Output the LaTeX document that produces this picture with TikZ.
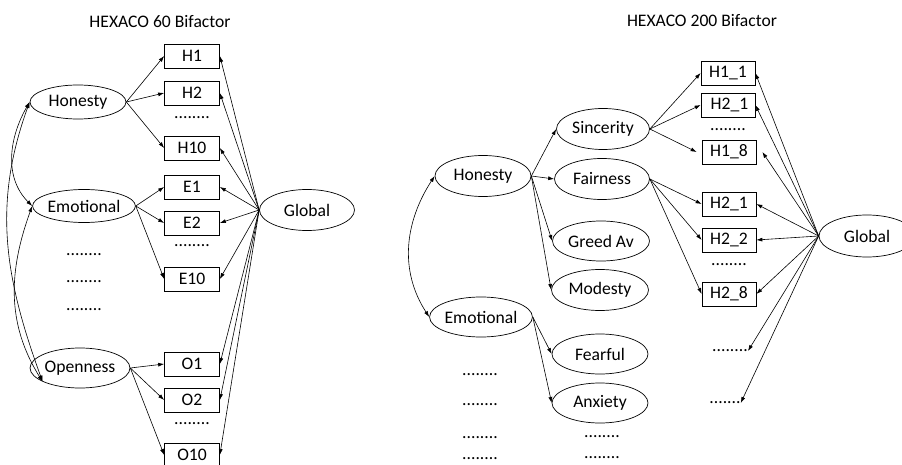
\documentclass[tikz,border=0pt]{standalone}
\usepackage{fontspec}
\setmainfont{Carlito}
\usepackage{tikz}
\usetikzlibrary{positioning}
\usetikzlibrary{shapes}
\usetikzlibrary{arrows.meta}

\begin{document}
\begin{tikzpicture}[x = 1pt, y = -1pt,
    every node/.style = {font = \fontsize{17.6}{21}\selectfont},
    latent/.style = {draw, ellipse, inner sep = 0pt, minimum width = 96pt, minimum height = 40pt, line width = 0.7pt},
    item/.style = {draw, rectangle, inner sep = 0pt, minimum width = 55pt, minimum height = 24pt, line width = 0.7pt},
    dotrow/.style = {draw = none, inner sep = 0pt},
    load/.style = {-{Latex[length = 6pt, width = 4pt]}, line width = 0.6pt},
    cov/.style = {{Latex[length = 6pt, width = 4pt]}-{Latex[length = 6pt, width = 4pt]}, line width = 0.6pt}]
    \useasboundingbox (0,0) rectangle (902,465);

    % HEXACO 60
    \node[draw = none] at (160,22) (title60) {HEXACO 60 Bifactor} ;
    \node[latent, minimum height = 34pt] at (78,102) (hon1) {Honesty} ;
    \node[latent, minimum width = 98pt, minimum height = 33pt] at (84,206) (emo1) {Emotional} ;
    \node[latent, minimum width = 94pt] at (80,368) (opn1) {Openness} ;
    \node[dotrow] at (84,255) (ldots1) {........} ;
    \node[dotrow] at (84,282) (ldots2) {........} ;
    \node[dotrow] at (84,310) (ldots3) {........} ;
    \node[latent, minimum width = 95pt, minimum height = 41pt] at (307,210) (global1) {Global} ;

    \node[item] at (192,56) (h1) {H1} ;
    \node[item] at (192,93) (h2) {H2} ;
    \node[dotrow] at (192,118) (hdots) {........} ;
    \node[item] at (192,148) (h10) {H10} ;
    \node[item] at (192,187) (e1) {E1} ;
    \node[item] at (192,223) (e2) {E2} ;
    \node[dotrow] at (192,246) (edots) {........} ;
    \node[item] at (192,279) (e10) {E10} ;
    \node[item] at (192,364) (o1) {O1} ;
    \node[item] at (192,400) (o2) {O2} ;
    \node[dotrow] at (192,424) (odots) {........} ;
    \node[item] at (192,455) (o10) {O10} ;

    \draw[load] (hon1.east) -- (h1.west) ;
    \draw[load] (hon1.east) -- (h2.west) ;
    \draw[load] (hon1.east) -- (h10.west) ;
    \draw[load] (emo1.east) -- (e1.west) ;
    \draw[load] (emo1.east) -- (e2.west) ;
    \draw[load] (emo1.east) -- (e10.west) ;
    \draw[load] (opn1.east) -- (o1.west) ;
    \draw[load] (opn1.east) -- (o2.west) ;
    \draw[load] (opn1.east) -- (o10.west) ;

    \draw[load] (global1.west) -- (h1.east) ;
    \draw[load] (global1.west) -- (h2.east) ;
    \draw[load] (global1.west) -- (h10.east) ;
    \draw[load] (global1.west) -- (e1.east) ;
    \draw[load] (global1.west) -- (e2.east) ;
    \draw[load] (global1.west) -- (e10.east) ;
    \draw[load] (global1.west) -- (o1.east) ;
    \draw[load] (global1.west) -- (o2.east) ;
    \draw[load] (global1.west) -- (o10.east) ;

    \draw[cov] (hon1.west) to[out = 240, in = 135] (emo1.west) ;
    \draw[cov] (hon1.west) to[out = 250, in = 110] (opn1.200) ;
    \draw[cov] (emo1.west) to[out = 250, in = 122] (opn1.200) ;

    % HEXACO 200
    \node[draw = none] at (702,21) (title200) {HEXACO 200 Bifactor} ;
    \node[latent, minimum height = 41pt] at (483,176) (hon2) {Honesty} ;
    \node[latent] at (481,317) (emo2) {Emotional} ;
    \node[latent, minimum width = 93pt, minimum height = 41pt] at (603,129) (sinc) {Sincerity} ;
    \node[latent, minimum width = 95pt, minimum height = 41pt] at (602,179) (fair) {Fairness} ;
    \node[latent, minimum width = 97pt] at (601,241) (greed) {Greed Av} ;
    \node[latent, minimum width = 97pt, minimum height = 41pt] at (600,290) (mod) {Modesty} ;
    \node[latent] at (600,354) (fear) {Fearful} ;
    \node[latent] at (600,403) (anx) {Anxiety} ;
    \node[dotrow] at (480,375) (rdots1) {........} ;
    \node[dotrow] at (480,405) (rdots2) {........} ;
    \node[dotrow] at (480,438) (rdots3) {........} ;
    \node[dotrow] at (480,459) (rdots4) {........} ;
    \node[dotrow] at (602,437) (adots1) {........} ;
    \node[dotrow] at (602,458) (adots2) {........} ;
    \node[latent, minimum height = 42pt] at (867,236) (global2) {Global} ;

    \node[item, minimum width = 54pt] at (728,73) (h11) {H1\_1} ;
    \node[item, minimum width = 54pt] at (728,105) (h21) {\hspace{3pt}H2\_1} ;
    \node[dotrow] at (728,130) (sdots) {........} ;
    \node[item, minimum width = 54pt] at (729,152) (h18) {H1\_8\hspace{6pt}} ;
    \node[item, minimum width = 54pt] at (729,204) (h21b) {H2\_1} ;
    \node[item, minimum width = 54pt] at (729,240) (h22) {H2\_2} ;
    \node[dotrow] at (729,265) (fdots) {........} ;
    \node[item, minimum width = 54pt] at (729,294) (h28) {H2\_8\hspace{3pt}} ;
    \node[dotrow] at (730,351) (gdots1) {........} ;
    \node[dotrow] at (725,403) (gdots2) {.......} ;

    \draw[load] (hon2.east) -- (sinc.west) ;
    \draw[load] (hon2.east) -- (fair.west) ;
    \draw[load] (hon2.east) -- (greed.west) ;
    \draw[load] (hon2.east) -- (mod.west) ;
    \draw[load] (emo2.east) -- (fear.west) ;
    \draw[load] (emo2.east) -- (anx.west) ;
    \draw[cov] (hon2.west) to[out = 237, in = 123] (emo2.west) ;

    \draw[load] (sinc.east) -- (h11.west) ;
    \draw[load] (sinc.east) -- (h21.west) ;
    \draw[load] (sinc.east) -- ([xshift = -5pt]h18.west) ;
    \draw[load] (fair.east) -- (h21b.west) ;
    \draw[load] (fair.east) -- (h22.west) ;
    \draw[load] (fair.east) -- (h28.west) ;

    \draw[load] (global2.west) -- (h11.east) ;
    \draw[load] (global2.west) -- (h21.east) ;
    \draw[load] (global2.west) -- ([xshift = 6pt]h18.east) ;
    \draw[load] (global2.west) -- (h21b.east) ;
    \draw[load] (global2.west) -- (h22.east) ;
    \draw[load] (global2.west) -- (h28.east) ;
    \draw[load] (global2.west) -- (gdots1.east) ;
    \draw[load] (global2.west) -- (gdots2.east) ;
\end{tikzpicture}
\end{document}
